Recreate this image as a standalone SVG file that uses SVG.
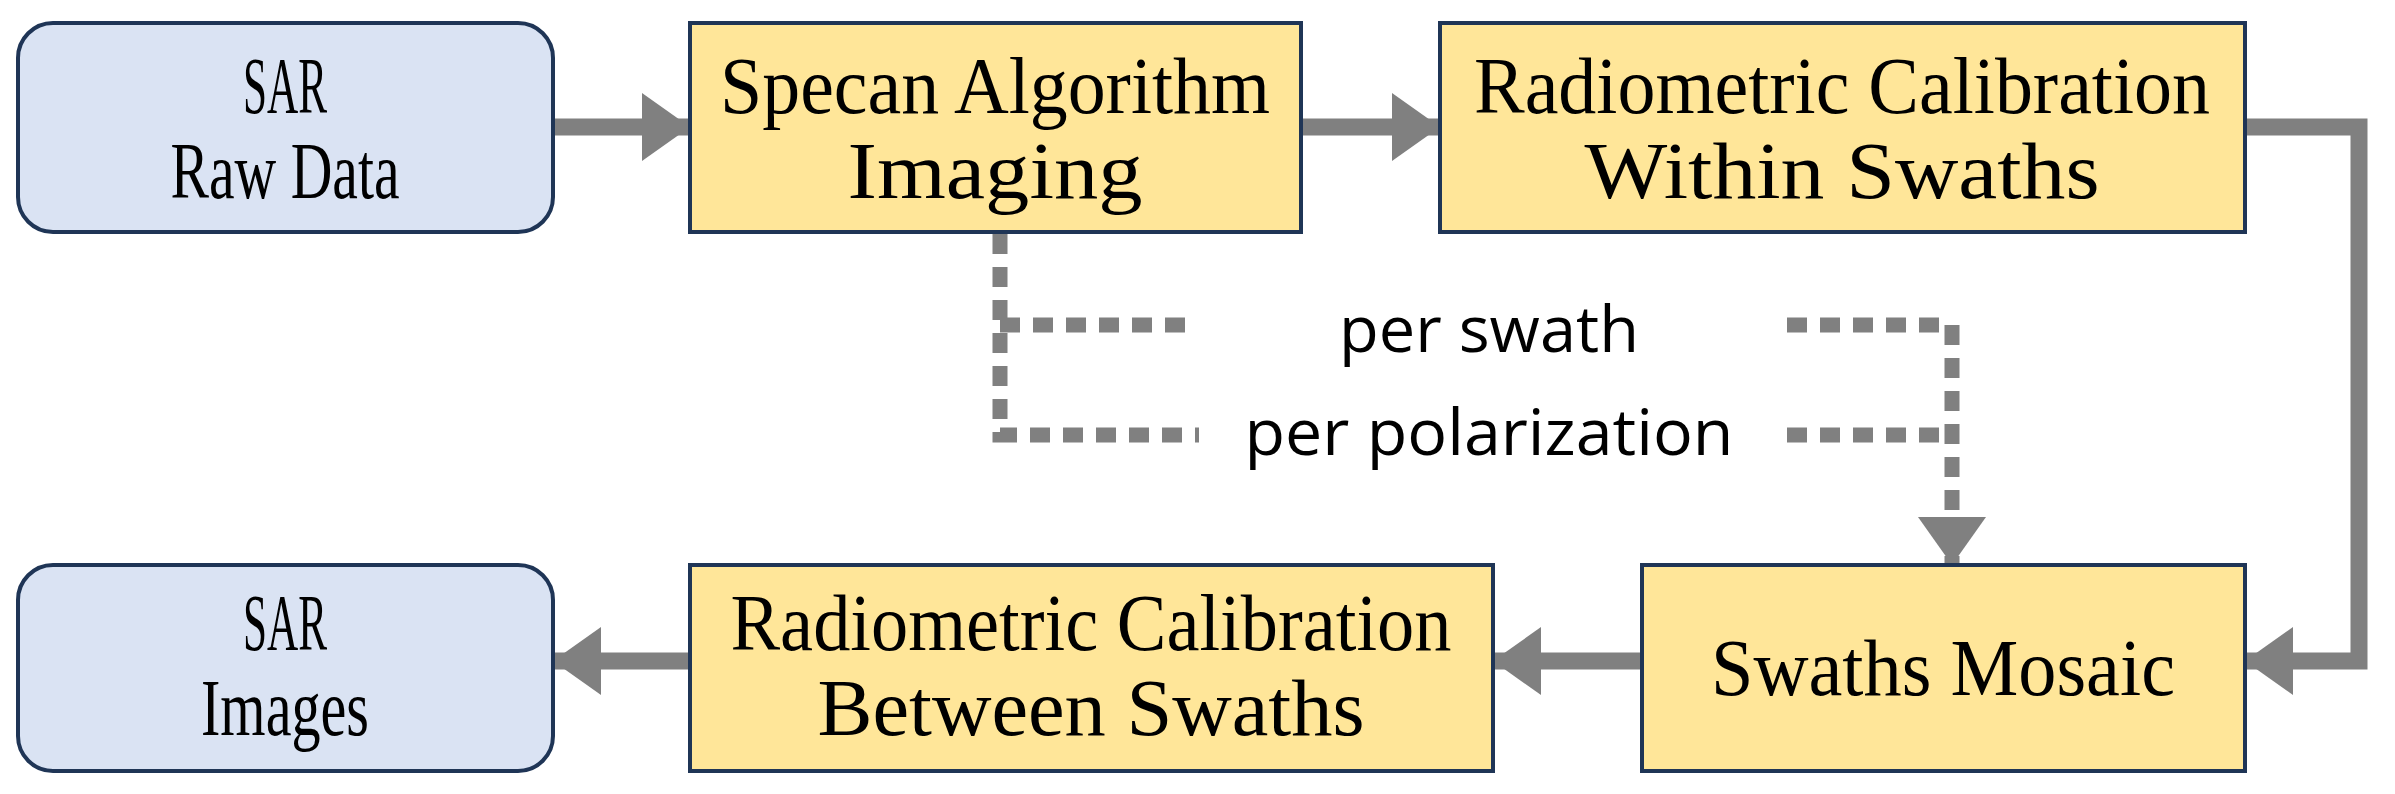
<svg xmlns="http://www.w3.org/2000/svg" width="2395" height="794" viewBox="0 0 2395 794">
<style>
.blue{fill:#dae3f3;stroke:#1f3556;stroke-width:4}
.yel{fill:#ffe699;stroke:#1f3556;stroke-width:4}
.t{font-family:"Liberation Serif",serif;font-size:80px;fill:#000;text-anchor:middle}
.s{font-family:"Open Sans","Noto Sans",sans-serif;font-size:64px;fill:#000;text-anchor:middle}
.ln{fill:none;stroke:#808080;stroke-width:17}
.dt{fill:none;stroke:#808080;stroke-width:15;stroke-dasharray:20 13}
</style>
<defs>
<marker id="ah" markerUnits="userSpaceOnUse" markerWidth="50" markerHeight="68" refX="48" refY="34" orient="auto" viewBox="0 0 50 68">
<path d="M0,0 L48,34 L0,68 Z" fill="#808080"/>
</marker>
</defs>
<g id="connectors">
<line class="ln" x1="553" y1="127" x2="690" y2="127" marker-end="url(#ah)"/>
<line class="ln" x1="1301" y1="127" x2="1440" y2="127" marker-end="url(#ah)"/>
<polyline class="ln" points="2245,127 2359,127 2359,661 2245,661" marker-end="url(#ah)"/>
<line class="ln" x1="1642" y1="661" x2="1493" y2="661" marker-end="url(#ah)"/>
<line class="ln" x1="690" y1="661" x2="553" y2="661" marker-end="url(#ah)"/>
<polyline class="dt" points="1000,234 1000,435 1199,435"/>
<line class="dt" x1="1000" y1="325" x2="1191" y2="325"/>
<line class="dt" x1="1787" y1="325" x2="1952" y2="325"/>
<line class="dt" x1="1787" y1="435" x2="1952" y2="435"/>
<line class="dt" x1="1952" y1="325" x2="1952" y2="565" marker-end="url(#ah)"/>
<text class="s" x="1489" y="352" textLength="300" lengthAdjust="spacingAndGlyphs">per swath</text>
<text class="s" x="1489" y="455" textLength="489" lengthAdjust="spacingAndGlyphs">per polarization</text>
</g>
<g id="sar-raw">
<rect class="blue" x="18" y="23" width="535" height="209" rx="35"/>
<text class="t" x="285" y="113" textLength="84" lengthAdjust="spacingAndGlyphs">SAR</text>
<text class="t" x="285" y="198" textLength="229" lengthAdjust="spacingAndGlyphs">Raw Data</text>
</g>
<g id="specan">
<rect class="yel" x="690" y="23" width="611" height="209"/>
<text class="t" x="995" y="113" textLength="550" lengthAdjust="spacingAndGlyphs">Specan Algorithm</text>
<text class="t" x="995" y="198" textLength="295" lengthAdjust="spacingAndGlyphs">Imaging</text>
</g>
<g id="rad-within">
<rect class="yel" x="1440" y="23" width="805" height="209"/>
<text class="t" x="1842" y="113" textLength="736" lengthAdjust="spacingAndGlyphs">Radiometric Calibration</text>
<text class="t" x="1842" y="198" textLength="515" lengthAdjust="spacingAndGlyphs">Within Swaths</text>
</g>
<g id="mosaic">
<rect class="yel" x="1642" y="565" width="603" height="206"/>
<text class="t" x="1943" y="695" textLength="464" lengthAdjust="spacingAndGlyphs">Swaths Mosaic</text>
</g>
<g id="rad-between">
<rect class="yel" x="690" y="565" width="803" height="206"/>
<text class="t" x="1091" y="650" textLength="721" lengthAdjust="spacingAndGlyphs">Radiometric Calibration</text>
<text class="t" x="1091" y="735" textLength="547" lengthAdjust="spacingAndGlyphs">Between Swaths</text>
</g>
<g id="sar-images">
<rect class="blue" x="18" y="565" width="535" height="206" rx="35"/>
<text class="t" x="285" y="650" textLength="84" lengthAdjust="spacingAndGlyphs">SAR</text>
<text class="t" x="285" y="735" textLength="168" lengthAdjust="spacingAndGlyphs">Images</text>
</g>
</svg>
